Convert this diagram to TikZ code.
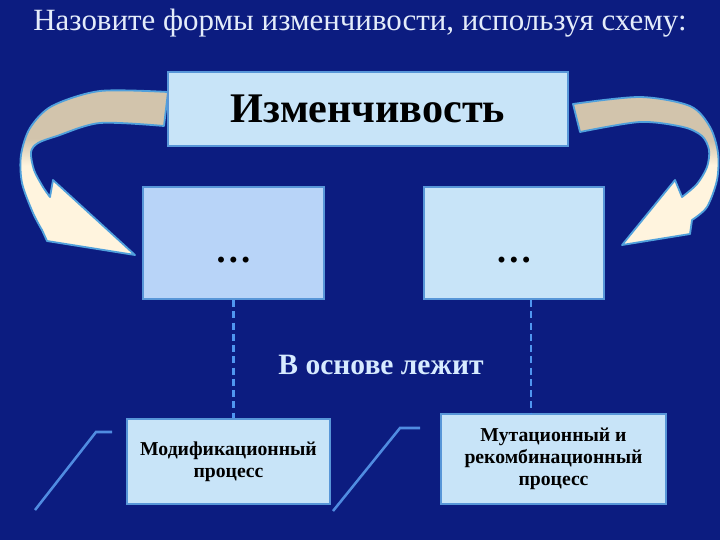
\documentclass[tikz,border=0pt]{standalone}
\usepackage{fontspec}
\setmainfont{Liberation Serif}
\usepackage{tikz}
\usetikzlibrary{positioning}
\definecolor{slidebg}{RGB}{12,28,128}
\definecolor{boxfill}{RGB}{200,228,248}
\definecolor{boxfilldark}{RGB}{184,212,248}
\definecolor{boxedge}{RGB}{88,150,216}
\definecolor{linkblue}{RGB}{80,150,240}
\definecolor{slantblue}{RGB}{80,140,225}
\definecolor{titletext}{RGB}{228,236,250}
\definecolor{basetext}{RGB}{215,235,255}
\definecolor{arrowtan}{RGB}{210,196,172}
\definecolor{arrowcream}{RGB}{255,244,222}
\definecolor{arrowedge}{RGB}{80,160,220}
\pgfdeclareverticalshading{arrowfade}{100bp}{color(0bp)=(arrowcream); color(52bp)=(arrowcream); color(60bp)=(arrowtan); color(100bp)=(arrowtan)}
\tikzstyle{schemebox} = [
    rectangle,                 % Shape
    draw=boxedge,              % Border color
    line width=1.4pt,          % Border width
    fill=boxfill,              % Light background
    text centered,             % Centered text
    align=center,
    font=\fontsize{14}{15.5}\selectfont\bfseries
]
\tikzstyle{midbox} = [schemebox, minimum width=4.5cm, minimum height=2.8cm,
                      text height=0.95cm, text depth=0pt, font=\fontsize{26}{30}\selectfont\bfseries]
\tikzstyle{dashlink} = [draw=linkblue, line width=2pt, dash pattern=on 5pt off 3pt]
\tikzstyle{slantline} = [draw=slantblue, line width=1.8pt]
\tikzstyle{bendarrow} = [draw=arrowedge, line width=1.3pt, line join=round,
                         shade, shading=arrowfade]

\begin{document}
\begin{tikzpicture}[x=0.025cm, y=-0.025cm]

		% Background
		\fill[slidebg] (0,0) rectangle (720,540);

		% Title
		\node[font=\fontsize{22}{26}\selectfont, text=titletext] (title) at (360,23) {Назовите формы изменчивости, используя схему:};

		% Curved arrows
		\path[bendarrow] (168,92) -- plot[smooth] coordinates {(168,92) (100,91) (52,106) (30,128) (21,155) (22,183) (33,213) (42,230)}
			-- (47,241) -- (135,255) -- (53,180) -- (50,197)
			-- plot[smooth] coordinates {(50,197) (43,187) (34,170) (31,152) (38,143) (57,136) (100,123) (164,126)} -- cycle;
		\path[bendarrow] (573,104) -- plot[smooth] coordinates {(573,104) (640,97) (690,106) (710,127) (718,153) (717,180) (707,207) (692,220)}
			-- (690,234) -- (622,245) -- (675,180) -- (682,197)
			-- plot[smooth] coordinates {(682,197) (697,184) (707,167) (709,150) (702,136) (683,127) (640,122) (580,132)} -- cycle;

		% Top-level box
		\node[schemebox, minimum width=10cm, minimum height=1.85cm, font=\fontsize{30}{36}\selectfont\bfseries] (top) at (368,109) {Изменчивость};

		% Forms of variability
		\node[midbox, fill=boxfilldark, minimum width=4.525cm, below left=0.975cm and -3.95cm of top] (lmid) {…};
		\node[midbox, below right=0.975cm and -3.65cm of top] (rmid) {…};

		% Processes
		\node[schemebox, minimum width=5.075cm, minimum height=2.125cm, below=2.95cm of lmid, xshift=-0.125cm] (lbot) {Модификационный\\процесс};
		\node[schemebox, minimum width=5.625cm, minimum height=2.25cm, below=2.825cm of rmid, xshift=0.9875cm] (rbot) {Мутационный и\\рекомбинационный\\процесс};

		\node[font=\fontsize{21}{25}\selectfont\bfseries, text=basetext] (base) at (381,365) {В основе лежит};

		% Links
		\coordinate (rdrop) at ([xshift=0.425cm]rmid.south);
		\draw[dashlink] (lmid.south) -- (lmid.south |- lbot.north);
		\draw[dashlink] (rdrop) -- (rdrop |- rbot.north);

		% Slanted lines
		\coordinate (sa) at (35,510);
		\coordinate (sb) at (333,511);
		\draw[slantline] (sa) -- ++(61,-78) -- ++(16,0);
		\draw[slantline] (sb) -- ++(67,-83) -- ++(20,0);
	\end{tikzpicture}
\end{document}
